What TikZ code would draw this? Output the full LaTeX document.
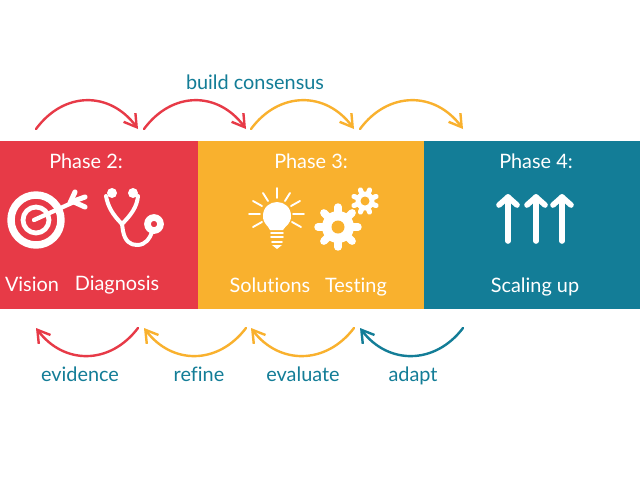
\documentclass[tikz,border=0pt]{standalone}
\usepackage{fontspec}
\setmainfont{Lato}[Ligatures={NoCommon,NoRare}]
\usetikzlibrary{arrows.meta}
\definecolor{cred}{HTML}{E73A47}
\definecolor{corange}{HTML}{F9B12E}
\definecolor{cteal}{HTML}{137D97}
\tikzset{
  x=0.75pt, y=-0.75pt,
  hop/.style={line width=1.8pt, line cap=round, -{Straight Barb[length=9pt,width=11pt,line width=1.8pt]}},
  bandtext/.style={text=white, font=\fontsize{14.9}{18}\selectfont, inner sep=0pt, anchor=base},
  linktext/.style={text=cteal, font=\fontsize{14.9}{18}\selectfont, inner sep=0pt, anchor=base},
  icon/.style={draw=white, line cap=round, line join=round},
}
% gear: centre, body radius, tooth tip radius, tooth width, hole radius, rotation, band colour
\newcommand{\cogwheel}[7]{
  \fill[white] (#1) circle (#2);
  \foreach \a in {0,45,...,315}
    \draw[icon, line width=#4] (#1) -- ++(\a+#6:#3);
  \fill[#7] (#1) circle (#5);
}
\begin{document}
\begin{tikzpicture}
\useasboundingbox (0,0) rectangle (640,480);
\fill[white] (0,0) rectangle (640,480);

% phase bands
\fill[cred] (0,141) rectangle (198,309);
\fill[corange] (198,141) rectangle (424,309);
\fill[cteal] (424,141) rectangle (640,309);

% connector ends
\coordinate (t0) at (36,129);
\coordinate (t1a) at (138,129);
\coordinate (t1b) at (144,129);
\coordinate (t2a) at (246,129);
\coordinate (t2b) at (251,129);
\coordinate (t3a) at (354,129);
\coordinate (t3b) at (360,129);
\coordinate (t4) at (463,129);
\coordinate (b0) at (36,328);
\coordinate (b1a) at (138,328);
\coordinate (b1b) at (144,328);
\coordinate (b2a) at (246,328);
\coordinate (b2b) at (251,328);
\coordinate (b3a) at (354,328);
\coordinate (b3b) at (360,328);
\coordinate (b4) at (463,328);

% upper hops
\draw[hop,cred] (t0) .. controls +(28,-38) and +(-28,-38) .. (t1a);
\draw[hop,cred] (t1b) .. controls +(28,-38) and +(-28,-38) .. (t2a);
\draw[hop,corange] (t2b) .. controls +(28,-38) and +(-28,-38) .. (t3a);
\draw[hop,corange] (t3b) .. controls +(28,-38) and +(-28,-38) .. (t4);

% lower hops
\draw[hop,cred] (b1a) .. controls +(-28,37) and +(28,37) .. (b0);
\draw[hop,corange] (b2a) .. controls +(-28,37) and +(28,37) .. (b1b);
\draw[hop,corange] (b3a) .. controls +(-28,37) and +(28,37) .. (b2b);
\draw[hop,cteal] (b4) .. controls +(-28,37) and +(28,37) .. (b3b);

% labels
\node[linktext] (consensus) at (255,89) {build consensus};
\node[linktext] (evidence) at (80,381) {evidence};
\node[linktext] (refine) at (199,381) {refine};
\node[linktext] (evaluate) at (303,381) {evaluate};
\node[linktext] (adapt) at (413,381) {adapt};
\node[bandtext] (ph2) at (86,168) {Phase 2:};
\node[bandtext] (ph3) at (311,168) {Phase 3:};
\node[bandtext] (ph4) at (536,168) {Phase 4:};
\node[bandtext] (vision) at (32,291) {Vision};
\node[bandtext] (diagnosis) at (117,290) {Diagnosis};
\node[bandtext] (solutions) at (270,292) {Solutions};
\node[bandtext] (testing) at (356,292) {Testing};
\node[bandtext] (scaling) at (535,292) {Scaling up};

% target with dart
\draw[icon, line width=5.6pt] (36,220) circle (25);
\draw[icon, line width=3.6pt] (36,220) circle (13);
\draw[icon, line width=3.2pt] (34,220) -- (74,202);
\draw[icon, line width=3.8pt] (70,203) -- (75,192);
\draw[icon, line width=3.8pt] (74,201) -- (85,197);
\draw[icon, line width=3.8pt] (74,202) -- (85,207);

% stethoscope
\draw[icon, line width=3pt] (106,196) .. controls (108,207) and (113,215) .. (122,224);
\draw[icon, line width=3pt] (138,196) .. controls (137,207) and (131,215) .. (122,224)
   -- (123,231) .. controls (125,241) and (130,245) .. (137,245)
   .. controls (146,245) and (150,238) .. (152,232);
\fill[white] (112,193) circle (5);
\fill[white] (133,193) circle (5);
\draw[icon, line width=5pt] (154,224) circle (6.5);

% light bulb
\fill[white] (270,230) .. controls (268,225) and (263,224) .. (263,216)
  .. controls (263,207) and (270,202) .. (277,202)
  .. controls (284,202) and (291,207) .. (291,216)
  .. controls (291,224) and (286,225) .. (283,230) -- cycle;
\foreach \yy/\hw in {233/6,237/6,242/5}
  \draw[icon, line width=1.4pt] (277-\hw,\yy) -- (277+\hw,\yy);
\fill[white] (272,245) -- (282,245) -- (277,249) -- cycle;
\foreach \xa/\ya/\xb/\yb in {277/188/277/198, 263/193/268/201, 290/193/285/201,
    253/201/262/206, 300/201/291/206, 249/214/260/214, 304/214/293/214,
    253/227/262/222, 301/227/292/222}
  \draw[icon, line width=1.4pt] (\xa,\ya) -- (\xb,\yb);

% gears
\cogwheel{338,227}{16}{20}{5.6pt}{6.5}{0}{corange}
\cogwheel{365,201}{9.5}{12}{3.8pt}{4.5}{22.5}{corange}

% scaling arrows
\foreach \xx in {508,536,562}{
  \draw[icon, line width=4.2pt] (\xx,241) -- (\xx,197);
  \draw[icon, line width=4.2pt] (\xx-9,205) -- (\xx,197) -- (\xx+9,205);
}
\end{tikzpicture}
\end{document}
